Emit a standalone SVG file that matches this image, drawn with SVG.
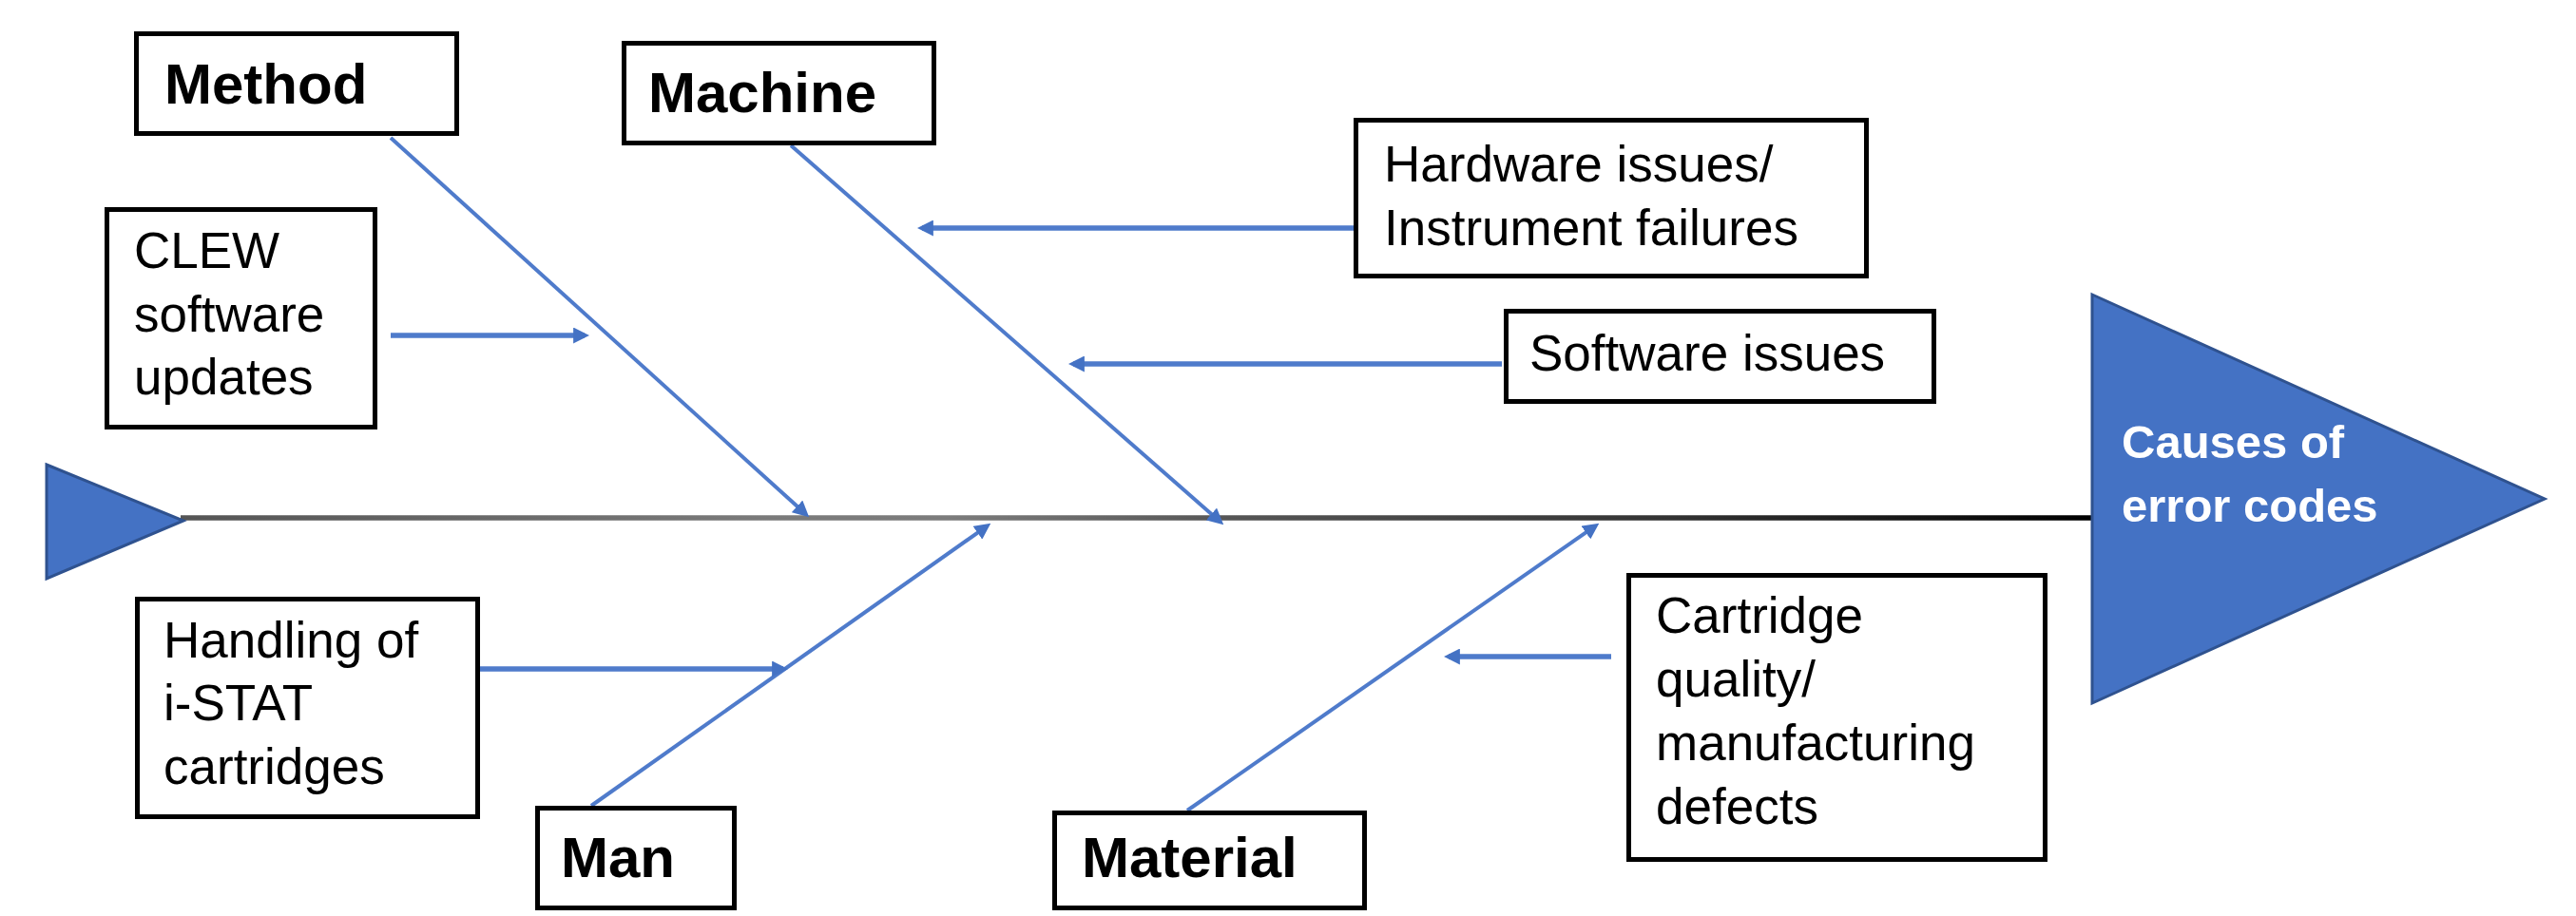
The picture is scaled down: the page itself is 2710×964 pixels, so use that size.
<svg xmlns="http://www.w3.org/2000/svg" width="2710" height="964" viewBox="0 0 2710 964">
  <style>
    .box { fill: #ffffff; stroke: #000000; stroke-width: 5; }
    .cat { font-family: "Liberation Sans", Arial, sans-serif; font-size: 60px; font-weight: bold; fill: #000000; }
    .cause { font-family: "Liberation Sans", Arial, sans-serif; font-size: 53px; fill: #000000; }
    .head { font-family: "Liberation Sans", Arial, sans-serif; font-size: 49px; font-weight: bold; fill: #ffffff; }
    .bone { fill: none; stroke: #4F7BCB; stroke-width: 4; marker-end: url(#arrow); }
    .feed { fill: none; stroke: #4F7BCB; stroke-width: 5.5; marker-end: url(#arrow); }
    .tri { fill: #4472C4; stroke: #2F528F; stroke-width: 3; stroke-linejoin: miter; }
  </style>
  <defs>
    <marker id="arrow" viewBox="0 0 10 10" refX="7" refY="5" markerWidth="17" markerHeight="17" markerUnits="userSpaceOnUse" orient="auto">
      <path d="M0,0 L10,5 L0,10 z" fill="#4472C4"/>
    </marker>
    <linearGradient id="spineShade" gradientUnits="userSpaceOnUse" x1="194" y1="0" x2="2200" y2="0">
      <stop offset="0" stop-color="#555555"/>
      <stop offset="0.3" stop-color="#7a7a7a"/>
      <stop offset="0.4" stop-color="#7c7c7c"/>
      <stop offset="0.55" stop-color="#555555"/>
      <stop offset="0.78" stop-color="#333333"/>
      <stop offset="1" stop-color="#000000"/>
    </linearGradient>
  </defs>

  <rect width="2710" height="964" fill="#ffffff"/>

  <!-- spine and bones -->
  <g id="connectors">
    <line x1="190" y1="545" x2="2200" y2="545" stroke="url(#spineShade)" stroke-width="5.5"/>
    <!-- category bones -->
    <line class="bone" x1="411" y1="145" x2="847.4" y2="540.8"/>
    <line class="bone" x1="832" y1="153" x2="1283.4" y2="548.8"/>
    <line class="bone" x1="622" y1="848" x2="1038.1" y2="553.8"/>
    <line class="bone" x1="1249" y1="853" x2="1678.1" y2="553.7"/>
    <!-- cause feeders -->
    <line class="feed" x1="411" y1="353" x2="615" y2="353"/>
    <line class="feed" x1="1424" y1="240" x2="970" y2="240"/>
    <line class="feed" x1="1580" y1="383" x2="1129" y2="383"/>
    <line class="feed" x1="500" y1="704" x2="824" y2="704"/>
    <line class="feed" x1="1695" y1="691" x2="1524" y2="691"/>
  </g>

  <!-- tail and head -->
  <g id="tail">
    <polygon class="tri" points="49,489 193,548 49,609"/>
  </g>
  <g id="effect">
    <polygon class="tri" points="2201,310 2677,525 2201,740"/>
    <text class="head" x="2232" y="482">Causes of</text>
    <text class="head" x="2232" y="549">error codes</text>
  </g>

  <!-- categories -->
  <g id="method">
    <rect class="box" x="143.5" y="35.5" width="337" height="105"/>
    <text class="cat" x="173" y="109">Method</text>
  </g>
  <g id="machine">
    <rect class="box" x="656.5" y="45.5" width="326" height="105"/>
    <text class="cat" x="682" y="118">Machine</text>
  </g>
  <g id="man">
    <rect class="box" x="565.5" y="850.5" width="207" height="105"/>
    <text class="cat" x="590" y="923">Man</text>
  </g>
  <g id="material">
    <rect class="box" x="1109.5" y="855.5" width="326" height="100"/>
    <text class="cat" x="1138" y="923">Material</text>
  </g>

  <!-- causes -->
  <g id="clew">
    <rect class="box" x="112.5" y="220.5" width="282" height="229"/>
    <text class="cause" x="141" y="282">CLEW</text>
    <text class="cause" x="141" y="349">software</text>
    <text class="cause" x="141" y="415">updates</text>
  </g>
  <g id="hardware">
    <rect class="box" x="1426.5" y="126.5" width="537" height="164"/>
    <text class="cause" x="1456" y="191">Hardware issues/</text>
    <text class="cause" x="1456" y="258">Instrument failures</text>
  </g>
  <g id="software">
    <rect class="box" x="1584.5" y="327.5" width="450" height="95"/>
    <text class="cause" x="1609" y="390">Software issues</text>
  </g>
  <g id="handling">
    <rect class="box" x="144.5" y="630.5" width="358" height="229"/>
    <text class="cause" x="172" y="692">Handling of</text>
    <text class="cause" x="172" y="758">i-STAT</text>
    <text class="cause" x="172" y="825">cartridges</text>
  </g>
  <g id="cartridge">
    <rect class="box" x="1713.5" y="605.5" width="438" height="299"/>
    <text class="cause" x="1742" y="666">Cartridge</text>
    <text class="cause" x="1742" y="733">quality/</text>
    <text class="cause" x="1742" y="800">manufacturing</text>
    <text class="cause" x="1742" y="867">defects</text>
  </g>
</svg>
